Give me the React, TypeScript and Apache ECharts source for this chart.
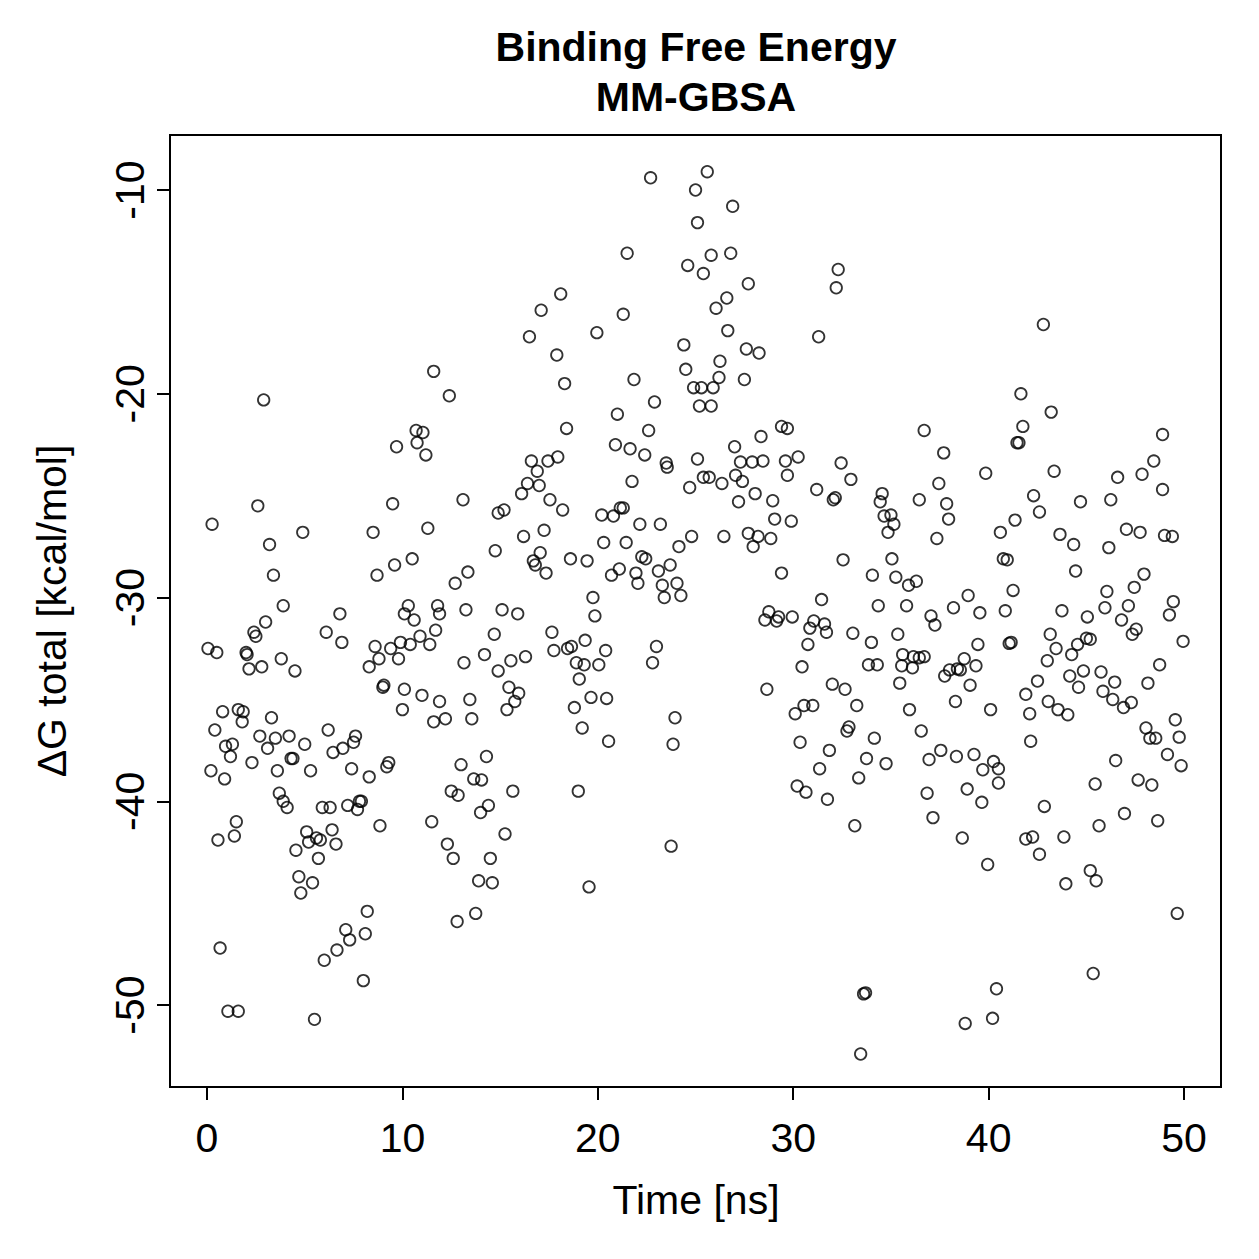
import React, { useEffect, useRef } from "react";
import * as echarts from "echarts";

// Time [ns] of each sample
const timeNs = [
  0.05, 0.2, 0.26, 0.4, 0.5, 0.56, 0.67, 0.8, 0.9, 0.95, 1.07, 1.2, 1.3, 1.4, 1.5, 1.6, 1.6, 1.8, 1.85, 2.0,
  2.05, 2.15, 2.3, 2.4, 2.5, 2.6, 2.7, 2.8, 2.9, 3.0, 3.1, 3.2, 3.3, 3.4, 3.5, 3.6, 3.7, 3.8, 3.9, 3.9,
  4.1, 4.2, 4.3, 4.4, 4.5, 4.55, 4.7, 4.8, 4.9, 5.0, 5.1, 5.2, 5.3, 5.4, 5.5, 5.6, 5.7, 5.8, 5.9, 6.0,
  6.1, 6.2, 6.3, 6.4, 6.45, 6.6, 6.65, 6.8, 6.9, 6.95, 7.1, 7.2, 7.3, 7.4, 7.5, 7.6, 7.7, 7.8, 7.9, 8.0,
  8.1, 8.2, 8.3, 8.3, 8.5, 8.6, 8.7, 8.8, 8.85, 9.0, 9.05, 9.2, 9.3, 9.4, 9.5, 9.6, 9.7, 9.8, 9.9, 10.0,
  10.1, 10.1, 10.3, 10.4, 10.5, 10.6, 10.7, 10.75, 10.9, 11.0, 11.05, 11.2, 11.3, 11.4, 11.5, 11.6, 11.6, 11.7, 11.8, 11.9,
  11.9, 12.2, 12.3, 12.4, 12.5, 12.6, 12.7, 12.8, 12.85, 13.0, 13.1, 13.15, 13.25, 13.35, 13.45, 13.55, 13.65, 13.75, 13.9, 14.0,
  14.05, 14.2, 14.3, 14.4, 14.5, 14.6, 14.7, 14.75, 14.9, 14.9, 15.1, 15.2, 15.25, 15.35, 15.45, 15.55, 15.65, 15.75, 15.9, 15.95,
  16.1, 16.2, 16.3, 16.4, 16.5, 16.6, 16.7, 16.8, 16.9, 17.0, 17.05, 17.1, 17.25, 17.35, 17.45, 17.55, 17.65, 17.75, 17.9, 17.95,
  18.1, 18.2, 18.3, 18.4, 18.45, 18.6, 18.65, 18.8, 18.9, 19.0, 19.05, 19.2, 19.3, 19.35, 19.45, 19.55, 19.65, 19.75, 19.85, 19.95,
  20.05, 20.2, 20.3, 20.4, 20.45, 20.55, 20.7, 20.8, 20.9, 21.0, 21.1, 21.15, 21.3, 21.3, 21.45, 21.5, 21.65, 21.75, 21.85, 21.95,
  22.05, 22.15, 22.25, 22.4, 22.45, 22.6, 22.7, 22.8, 22.9, 23.0, 23.1, 23.2, 23.3, 23.4, 23.5, 23.55, 23.7, 23.75, 23.85, 23.95,
  24.05, 24.15, 24.25, 24.4, 24.5, 24.6, 24.7, 24.8, 24.9, 25.0, 25.1, 25.1, 25.2, 25.3, 25.4, 25.4, 25.6, 25.7, 25.8, 25.8,
  25.9, 26.05, 26.2, 26.25, 26.35, 26.45, 26.6, 26.65, 26.8, 26.9, 27.0, 27.05, 27.2, 27.3, 27.4, 27.5, 27.6, 27.7, 27.7, 27.9,
  27.95, 28.05, 28.2, 28.25, 28.35, 28.45, 28.55, 28.65, 28.75, 28.85, 28.95, 29.05, 29.15, 29.25, 29.4, 29.4, 29.6, 29.7, 29.7, 29.9,
  29.95, 30.1, 30.2, 30.25, 30.35, 30.45, 30.55, 30.65, 30.75, 30.85, 31.0, 31.05, 31.2, 31.3, 31.35, 31.45, 31.6, 31.7, 31.75, 31.85,
  32.0, 32.05, 32.15, 32.2, 32.3, 32.45, 32.55, 32.65, 32.75, 32.85, 32.95, 33.05, 33.15, 33.25, 33.35, 33.45, 33.6, 33.7, 33.75, 33.85,
  34.0, 34.05, 34.15, 34.3, 34.35, 34.45, 34.55, 34.65, 34.75, 34.85, 35.0, 35.05, 35.15, 35.25, 35.35, 35.45, 35.55, 35.6, 35.8, 35.9,
  35.95, 36.1, 36.15, 36.3, 36.45, 36.45, 36.55, 36.7, 36.7, 36.85, 36.95, 37.05, 37.15, 37.25, 37.35, 37.45, 37.55, 37.7, 37.75, 37.85,
  37.95, 38.0, 38.2, 38.3, 38.35, 38.4, 38.55, 38.65, 38.75, 38.8, 38.9, 38.95, 39.05, 39.25, 39.35, 39.45, 39.55, 39.65, 39.7, 39.85,
  39.95, 40.1, 40.2, 40.25, 40.4, 40.5, 40.5, 40.6, 40.75, 40.85, 40.95, 41.05, 41.15, 41.25, 41.35, 41.45, 41.55, 41.65, 41.75, 41.9,
  41.9, 42.1, 42.15, 42.25, 42.3, 42.5, 42.6, 42.6, 42.8, 42.85, 43.0, 43.05, 43.15, 43.2, 43.35, 43.45, 43.55, 43.65, 43.75, 43.85,
  43.95, 44.05, 44.15, 44.25, 44.35, 44.45, 44.55, 44.6, 44.7, 44.85, 45.0, 45.05, 45.2, 45.2, 45.35, 45.45, 45.5, 45.65, 45.75, 45.85,
  45.95, 46.05, 46.15, 46.25, 46.35, 46.45, 46.5, 46.6, 46.8, 46.9, 46.95, 47.05, 47.15, 47.3, 47.35, 47.45, 47.55, 47.65, 47.75, 47.85,
  47.95, 48.05, 48.15, 48.25, 48.35, 48.45, 48.55, 48.65, 48.75, 48.9, 48.9, 49.0, 49.15, 49.25, 49.4, 49.45, 49.55, 49.65, 49.75, 49.85,
  49.95,
];

// Delta G total [kcal/mol] of each sample
const deltaG = [
  -32.5, -38.5, -26.4, -36.5, -32.7, -41.9, -47.2, -35.6, -38.9, -37.3, -50.3, -37.8, -37.2, -41.7, -41.0, -50.3, -35.5, -36.1, -35.6, -32.7,
  -32.8, -33.5, -38.1, -31.7, -31.9, -25.5, -36.8, -33.4, -20.3, -31.2, -37.4, -27.4, -35.9, -28.9, -36.9, -38.5, -39.6, -33.0, -40.0, -30.4,
  -40.3, -36.8, -37.9, -37.9, -33.6, -42.4, -43.7, -44.5, -26.8, -37.2, -41.5, -42.0, -38.5, -44.0, -50.7, -41.8, -42.8, -41.9, -40.3, -47.8,
  -31.7, -36.5, -40.3, -41.4, -37.6, -42.1, -47.3, -30.8, -32.2, -37.4, -46.3, -40.2, -46.8, -38.4, -37.1, -36.8, -40.4, -40.0, -40.0, -48.8,
  -46.5, -45.4, -38.8, -33.4, -26.8, -32.4, -28.9, -33.0, -41.2, -34.4, -34.3, -38.3, -38.1, -32.5, -25.4, -28.4, -22.6, -33.0, -32.2, -35.5,
  -34.5, -30.8, -30.4, -32.3, -28.1, -31.1, -21.8, -22.4, -31.9, -34.8, -21.9, -23.0, -26.6, -32.3, -41.0, -18.9, -36.1, -31.6, -30.4, -30.8,
  -35.1, -35.95, -42.1, -20.1, -39.5, -42.8, -29.3, -45.9, -39.7, -38.2, -25.2, -33.2, -30.6, -28.75, -35.0, -35.95, -38.9, -45.5, -43.9, -40.55,
  -38.95, -32.8, -37.8, -40.2, -42.8, -44.0, -31.8, -27.7, -25.85, -33.6, -30.6, -25.7, -41.6, -35.5, -34.4, -33.1, -39.5, -35.1, -30.8, -34.7,
  -24.9, -27.0, -32.9, -24.4, -17.2, -23.3, -28.2, -28.4, -23.8, -24.5, -27.8, -15.9, -26.7, -28.8, -23.3, -25.2, -31.7, -32.6, -18.1, -23.1,
  -15.1, -25.7, -19.5, -21.7, -32.5, -28.1, -32.4, -35.4, -33.2, -39.5, -34.0, -36.4, -33.3, -32.1, -28.2, -44.2, -34.9, -30.0, -30.9, -17.0,
  -33.3, -25.95, -27.3, -32.6, -34.95, -37.05, -28.9, -26.0, -22.5, -21.0, -28.6, -25.6, -25.6, -16.1, -27.3, -13.1, -22.7, -24.3, -19.3, -28.8,
  -29.3, -26.4, -28.0, -23.0, -28.1, -21.8, -9.4, -33.2, -20.4, -32.4, -28.7, -26.4, -29.4, -30.0, -23.4, -23.6, -28.4, -42.2, -37.2, -35.9,
  -29.3, -27.5, -29.9, -17.6, -18.8, -13.7, -24.6, -27.0, -19.7, -10.0, -11.6, -23.2, -20.6, -19.7, -14.1, -24.1, -9.1, -24.1, -13.2, -20.6,
  -19.7, -15.8, -19.2, -18.4, -24.4, -27.0, -15.3, -16.9, -13.1, -10.8, -22.6, -24.0, -25.3, -23.35, -24.3, -19.3, -17.8, -14.6, -26.85, -23.35,
  -27.5, -24.9, -27.0, -18.0, -22.1, -23.3, -31.1, -34.5, -30.7, -27.1, -25.25, -26.15, -31.15, -30.95, -21.6, -28.8, -23.3, -21.7, -24.0, -26.25,
  -30.95, -35.7, -39.25, -23.1, -37.1, -33.4, -35.3, -39.55, -32.3, -31.5, -35.3, -31.15, -24.7, -17.2, -38.4, -30.1, -31.3, -31.7, -39.9, -37.5,
  -34.25, -25.2, -25.1, -14.8, -13.9, -23.4, -28.15, -34.5, -36.55, -36.35, -24.2, -31.75, -41.2, -35.3, -38.85, -52.4, -49.45, -49.4, -37.9, -33.3,
  -32.2, -28.9, -36.9, -33.3, -30.4, -25.3, -24.9, -26.0, -38.15, -26.8, -25.95, -28.1, -26.4, -29.0, -31.8, -34.2, -33.35, -32.8, -30.4, -29.4,
  -35.5, -33.45, -32.9, -29.2, -32.95, -25.2, -36.55, -32.9, -21.8, -39.6, -37.95, -30.9, -40.8, -31.35, -27.1, -24.4, -37.5, -22.9, -33.85, -25.4,
  -26.15, -33.55, -30.5, -35.1, -37.8, -33.5, -33.55, -41.8, -33.0, -50.9, -39.4, -29.9, -34.3, -37.7, -33.35, -32.3, -30.75, -40.05, -38.45, -23.9,
  -43.1, -35.5, -50.65, -38.05, -49.2, -38.4, -39.1, -26.8, -28.1, -30.65, -28.15, -32.25, -32.2, -29.65, -26.2, -22.4, -22.4, -20.0, -21.6, -34.75,
  -41.85, -35.7, -37.05, -41.75, -25.0, -34.1, -25.8, -42.6, -16.6, -40.25, -33.1, -35.1, -31.8, -20.9, -23.8, -32.5, -35.5, -26.9, -30.65, -41.75,
  -44.05, -35.75, -33.85, -32.8, -27.4, -28.7, -32.3, -34.4, -25.3, -33.6, -32.0, -30.95, -32.05, -43.4, -48.45, -39.15, -43.9, -41.2, -33.65, -34.6,
  -30.5, -29.7, -27.55, -25.2, -35.0, -34.15, -38.0, -24.1, -31.1, -35.4, -40.6, -26.65, -30.4, -35.15, -31.8, -29.5, -31.55, -38.95, -26.8, -23.95,
  -28.85, -36.4, -34.2, -36.9, -39.2, -23.3, -36.9, -40.95, -33.3, -24.7, -22.0, -26.95, -37.7, -30.85, -27.0, -30.2, -36.0, -45.5, -36.85, -38.25,
  -32.15,
];

const xTicks = [0, 10, 20, 30, 40, 50];
const yTicks = [-50, -40, -30, -20, -10];

const titleLines = ["Binding Free Energy", "MM-GBSA"];
const xTitle = "Time [ns]";
const yTitle = "ΔG total [kcal/mol]";

const FONT = "'Liberation Sans', Arial, Helvetica, sans-serif";

export default function App() {
  const ref = useRef<HTMLDivElement>(null);

  useEffect(() => {
    if (!ref.current) return;
    const chart = echarts.init(ref.current, null, { renderer: "svg" });
    const n = Math.min(timeNs.length, deltaG.length);
    const data: number[][] = [];
    for (let i = 0; i < n; i++) data.push([timeNs[i], deltaG[i]]);

    chart.setOption({
      animation: false,
      backgroundColor: "#ffffff",
      grid: {
        left: 170,
        top: 135,
        width: 1051,
        height: 952,
        show: true,
        borderColor: "#000",
        borderWidth: 2,
        backgroundColor: "transparent",
        containLabel: false,
      },
      xAxis: {
        type: "value",
        min: -1.894,
        max: 51.89,
        splitLine: { show: false },
        axisLine: { show: false, onZero: false },
        axisTick: {
          show: true,
          length: 13,
          customValues: xTicks,
          lineStyle: { color: "#000", width: 2 },
        },
        axisLabel: {
          customValues: xTicks,
          fontSize: 41,
          color: "#000",
          fontFamily: FONT,
          margin: 30,
        },
      },
      yAxis: {
        type: "value",
        min: -54.02,
        max: -7.3,
        splitLine: { show: false },
        axisLine: { show: false, onZero: false },
        axisTick: {
          show: true,
          length: 13,
          customValues: yTicks,
          lineStyle: { color: "#000", width: 2 },
        },
        axisLabel: {
          customValues: yTicks,
          fontSize: 41,
          color: "#000",
          fontFamily: FONT,
          rotate: 90,
          margin: 20,
        },
      },
      series: [
        {
          type: "scatter",
          data,
          symbol: "circle",
          symbolSize: 11.5,
          silent: true,
          itemStyle: {
            color: "rgba(0,0,0,0)",
            borderColor: "#000",
            borderWidth: 1.8,
          },
        },
      ],
      graphic: [
        {
          type: "text",
          x: 696,
          y: 47,
          style: {
            text: titleLines[0],
            fontSize: 41,
            fontWeight: "bold",
            fontFamily: FONT,
            fill: "#000",
            align: "center",
            verticalAlign: "middle",
          },
        },
        {
          type: "text",
          x: 696,
          y: 97,
          style: {
            text: titleLines[1],
            fontSize: 41,
            fontWeight: "bold",
            fontFamily: FONT,
            fill: "#000",
            align: "center",
            verticalAlign: "middle",
          },
        },
        {
          type: "text",
          x: 696,
          y: 1200,
          style: {
            text: xTitle,
            fontSize: 41,
            fontFamily: FONT,
            fill: "#000",
            align: "center",
            verticalAlign: "middle",
          },
        },
        {
          type: "text",
          x: 52,
          y: 611,
          rotation: Math.PI / 2,
          style: {
            text: yTitle,
            fontSize: 41,
            fontFamily: FONT,
            fill: "#000",
            align: "center",
            verticalAlign: "middle",
          },
        },
      ],
    });

    return () => chart.dispose();
  }, []);

  return (
    <div
      ref={ref}
      style={{ position: "fixed", left: 0, top: 0, width: 1259, height: 1259 }}
    />
  );
}
